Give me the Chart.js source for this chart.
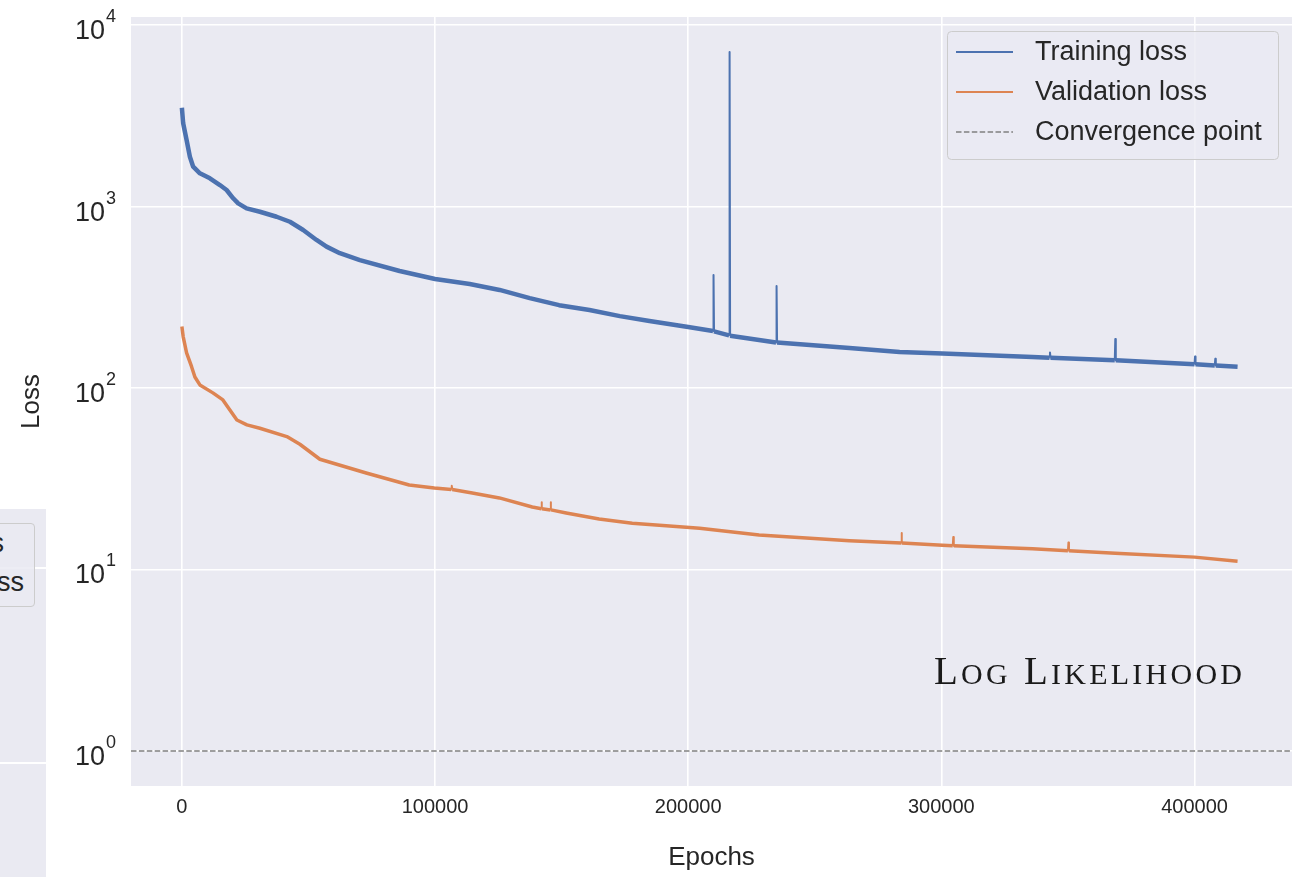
<!DOCTYPE html>
<html>
<head>
<meta charset="utf-8">
<script src="https://cdn.jsdelivr.net/npm/chart.js@4/dist/chart.umd.min.js"></script>
<style>
  html, body { margin: 0; padding: 0; background: #fff; }
  #wrap { position: relative; width: 1307px; height: 877px; overflow: hidden; }
  #loss-chart { position: absolute; left: 0; top: 0; }
  /* edge of the neighbouring panel */
  #side { position: absolute; left: 0; top: 509px; width: 46px; height: 368px; background: #EAEAF2; overflow: hidden; }
  #side .gl { position: absolute; left: 0; right: 0; height: 1.6px; background: #fff; }
  #side .lg { position: absolute; left: -186px; top: 14px; width: 219px; height: 82px; border: 1px solid #ccc; border-radius: 4px; background: rgba(234,234,242,0.85); }
  #side .lg div { position: absolute; left: 37px; font: 27px "Liberation Sans", Arial, sans-serif; color: #262626; line-height: 30px; white-space: nowrap; }
</style>
</head>
<body>
<div id="wrap">
  <canvas id="loss-chart" width="1307" height="877"></canvas>
  <div id="side">
    <div class="gl" style="top:58px"></div>
    <div class="gl" style="top:253px"></div>
    <div class="lg">
      <div style="top:4px">Training loss</div>
      <div style="top:43px">Validation loss</div>
    </div>
  </div>
</div>
<script>
// training loss (epoch, loss) incl. the few spikes
const trainEpochs = [0, 510, 1860, 3160, 4460, 7110, 11060, 15010, 17660, 20260, 22240, 25550, 30810, 37400, 42660, 47910, 53180, 57130, 62400, 70300, 86000, 100000, 113700, 125500, 137400, 149000, 161000, 173000, 184700, 200000, 209800, 210000, 210200, 216150, 216350, 216550, 234700, 234900, 235100, 263700, 283500, 300400, 336000, 342700, 342900, 343100, 368500, 368700, 368900, 400000, 400200, 400400, 408000, 408200, 408400, 417000];
const trainLoss = [3500, 2873, 2324, 1881, 1657, 1524, 1430, 1313, 1233, 1110, 1040, 977, 936, 878, 824, 742, 654, 601, 553, 507, 441, 399, 374, 347, 313, 286, 269, 249, 234, 217, 206, 419, 205, 195, 7100, 194, 178, 365, 178, 166, 158, 155, 148, 147, 157, 147, 142, 186, 142, 135, 149, 135, 133, 145, 133, 131];

// validation loss
const valEpochs = [0, 510, 1860, 3830, 5140, 7110, 12250, 16200, 18960, 21730, 25680, 30800, 41450, 46600, 54500, 72800, 89800, 99700, 106400, 106600, 106800, 114700, 125400, 138400, 142000, 142100, 142200, 145600, 145700, 145800, 151800, 164800, 177900, 191300, 204500, 228000, 263700, 284200, 284300, 284400, 300400, 304500, 304700, 304900, 336000, 350000, 350200, 350400, 368700, 400000, 417000];
const valLoss = [218, 192, 156, 131, 115, 104, 94, 86, 75.6, 66.6, 62.6, 60, 54, 49, 40.5, 34, 29.2, 28.1, 27.6, 28.9, 27.6, 26.4, 24.8, 22.1, 21.6, 23.5, 21.6, 21.3, 23.5, 21.3, 20.5, 19.0, 18.0, 17.4, 16.9, 15.5, 14.4, 14.0, 15.9, 14.0, 13.6, 13.5, 15.1, 13.5, 13.0, 12.7, 14.1, 12.7, 12.3, 11.7, 11.1];

const convergenceLevel = 1;
const xTicks = [0, 100000, 200000, 300000, 400000];
const yTicks = [1, 10, 100, 1000, 10000];
const xLimits = [-20100, 438500];
const yLimits = [0.6414, 11070];

const BLUE = '#4C72B0', ORANGE = '#DD8452', GREY = '#808080', INK = '#262626';
const SANS = '"Liberation Sans", Arial, sans-serif';

function toPoints(xs, ys) {
    return xs.map((x, i) => ({ x: x, y: ys[i] }));
}

// closely spaced points are the spikes: draw them with a thin pen
function spikeWidth(ctx) {
    return ctx.p1.parsed.x - ctx.p0.parsed.x < 500 ? 2 : undefined;
}

const panelBg = {
    id: 'panelBg',
    beforeDraw(chart) {
        const { ctx, chartArea: a } = chart;
        ctx.save();
        ctx.fillStyle = '#EAEAF2';
        ctx.fillRect(a.left, a.top, a.right - a.left, a.bottom - a.top);
        ctx.restore();
    }
};

// 10^n labels on the log axis
const powerLabels = {
    id: 'powerLabels',
    afterDraw(chart) {
        const ctx = chart.ctx, y = chart.scales.y;
        ctx.save();
        ctx.fillStyle = INK;
        ctx.textBaseline = 'alphabetic';
        yTicks.forEach(v => {
            const py = y.getPixelForValue(v);
            ctx.font = '27px ' + SANS;
            ctx.textAlign = 'right';
            ctx.fillText('10', 105, py + 14);
            ctx.font = '18px ' + SANS;
            ctx.textAlign = 'left';
            ctx.fillText(String(Math.round(Math.log10(v))), 106, py - 3);
        });
        ctx.restore();
    }
};

const legendBox = {
    id: 'legendBox',
    afterDraw(chart) {
        const ctx = chart.ctx, a = chart.chartArea;
        const w = 331, h = 128;
        const x0 = a.right - 14 - w, y0 = a.top + 14;
        ctx.save();
        ctx.beginPath();
        ctx.roundRect(x0 + 0.5, y0 + 0.5, w, h, 4);
        ctx.fillStyle = 'rgba(234,234,242,0.8)';
        ctx.fill();
        ctx.strokeStyle = '#cccccc';
        ctx.lineWidth = 1;
        ctx.stroke();
        chart.data.datasets.forEach((ds, i) => {
            const ly = y0 + 21 + i * 40;
            ctx.beginPath();
            ctx.setLineDash(ds.borderDash || []);
            ctx.strokeStyle = ds.borderColor;
            ctx.lineWidth = ds.borderDash ? 1.5 : 2;
            ctx.moveTo(x0 + 9, ly);
            ctx.lineTo(x0 + 66, ly);
            ctx.stroke();
            ctx.setLineDash([]);
            ctx.fillStyle = INK;
            ctx.font = '27px ' + SANS;
            ctx.textAlign = 'left';
            ctx.textBaseline = 'middle';
            ctx.fillText(ds.label, x0 + 88, ly + 1);
        });
        ctx.restore();
    }
};

// small-caps caption in the lower right of the axes
const caption = {
    id: 'caption',
    afterDraw(chart) {
        const ctx = chart.ctx, a = chart.chartArea;
        const text = 'Log Likelihood';
        const right = a.right - 50, base = a.top + 667, width = 308;
        const face = 'px "Liberation Serif", "Times New Roman", serif';
        const runs = text.split('').map(c => ({ c: c.toUpperCase(), size: c === c.toUpperCase() ? 39 : 30 }));
        ctx.save();
        let total = 0;
        runs.forEach(r => {
            ctx.font = r.size + face;
            r.w = ctx.measureText(r.c).width;
            total += r.w;
        });
        const gap = (width - total) / (runs.length - 1);
        let x = right - width;
        ctx.fillStyle = '#1a1a1a';
        ctx.textBaseline = 'alphabetic';
        ctx.textAlign = 'left';
        runs.forEach(r => {
            ctx.font = r.size + face;
            ctx.fillText(r.c, x, base);
            x += r.w + gap;
        });
        ctx.restore();
    }
};

// keep the axis limits exactly as set (log ticks would otherwise round the minimum)
function fixedTicks(values, limits) {
    return s => {
        s.ticks = values.map(v => ({ value: v }));
        s.min = limits[0];
        s.max = limits[1];
    };
}

const chart = new Chart(document.getElementById('loss-chart'), {
    type: 'line',
    data: {
        datasets: [
            {
                label: 'Training loss',
                data: toPoints(trainEpochs, trainLoss),
                borderColor: BLUE,
                borderWidth: 4.5,
                borderJoinStyle: 'round',
                segment: { borderWidth: spikeWidth }
            },
            {
                label: 'Validation loss',
                data: toPoints(valEpochs, valLoss),
                borderColor: ORANGE,
                borderWidth: 3.5,
                borderJoinStyle: 'round',
                segment: { borderWidth: spikeWidth }
            },
            {
                label: 'Convergence point',
                data: toPoints(xLimits, [convergenceLevel, convergenceLevel]),
                borderColor: GREY,
                borderWidth: 1.7,
                borderDash: [5.5, 2.4]
            }
        ]
    },
    options: {
        responsive: false,
        animation: false,
        devicePixelRatio: 1,
        layout: { padding: { top: 17, right: 15, left: 0, bottom: 0 } },
        elements: { point: { radius: 0 }, line: { tension: 0 } },
        plugins: { legend: { display: false }, tooltip: { enabled: false } },
        scales: {
            x: {
                type: 'linear',
                min: xLimits[0],
                max: xLimits[1],
                afterBuildTicks: fixedTicks(xTicks, xLimits),
                afterFit: s => { s.height = 91; },
                border: { display: false },
                grid: { color: '#ffffff', lineWidth: 1.6, drawTicks: false },
                ticks: {
                    color: INK,
                    padding: 9,
                    maxRotation: 0,
                    font: { family: SANS, size: 20 },
                    callback: v => String(v)
                },
                title: {
                    display: true,
                    text: 'Epochs',
                    color: INK,
                    font: { family: SANS, size: 26 },
                    padding: { top: 0, bottom: 4 }
                }
            },
            y: {
                type: 'logarithmic',
                min: yLimits[0],
                max: yLimits[1],
                afterBuildTicks: fixedTicks(yTicks, yLimits),
                afterFit: s => { s.width = 131; },
                border: { display: false },
                grid: { color: '#ffffff', lineWidth: 1.6, drawTicks: false },
                ticks: { display: false },
                title: {
                    display: true,
                    text: 'Loss',
                    color: INK,
                    font: { family: SANS, size: 26 },
                    padding: { top: 16, bottom: 0 }
                }
            }
        }
    },
    plugins: [panelBg, powerLabels, legendBox, caption]
});
</script>
</body>
</html>
